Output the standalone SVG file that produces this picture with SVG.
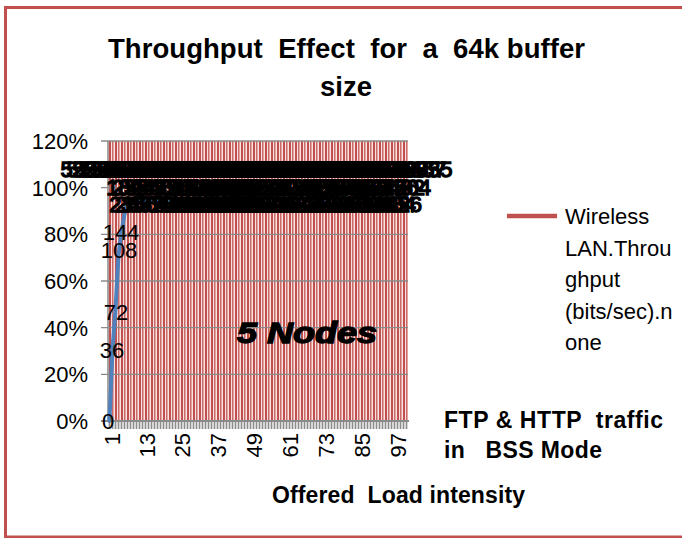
<svg xmlns="http://www.w3.org/2000/svg" width="682" height="538" viewBox="0 0 682 538">
<style>
.t{font-family:"Liberation Sans",Arial,sans-serif;fill:#000}
.ax{font-size:22px;text-anchor:end}
.dl{font-family:"Liberation Sans",Arial,sans-serif;font-size:22px;text-anchor:middle;fill:#000}
.heavy{stroke:#000;stroke-width:1.4}
.b{font-weight:bold}
.grid{stroke:#8A8A8A;stroke-width:1.3}
</style>
<defs>
<pattern id="bars" x="108" y="0" width="6" height="10" patternUnits="userSpaceOnUse"><rect width="6" height="10" fill="#F7E2E1"/><rect x="1" width="2" height="10" fill="#C0504D"/><rect x="4" width="1.5" height="10" fill="#CC6A67"/></pattern>
<pattern id="ticks" x="108" y="0" width="3" height="10" patternUnits="userSpaceOnUse"><rect width="3" height="10" fill="#D6D6D6"/><rect x="1" width="1" height="10" fill="#8C8C8C"/></pattern>
</defs>
<rect width="682" height="538" fill="#fff"/>
<g id="frame"><rect x="5.5" y="7.5" width="700" height="529.5" fill="none" stroke="#C0504D" stroke-width="3"/></g>
<g id="title" class="t b" font-size="27.5">
<text x="108" y="58" xml:space="preserve" textLength="477" lengthAdjust="spacing">Throughput  Effect  for  a  64k buffer</text>
<text x="346" y="96" text-anchor="middle">size</text>
</g>
<g id="plot">
<rect x="108" y="141" width="300" height="280" fill="url(#bars)"/>
<rect x="108" y="421" width="300" height="8" fill="url(#ticks)"/>
<g class="grid">
<line x1="101" y1="141" x2="408" y2="141"/>
<line x1="101" y1="187.7" x2="408" y2="187.7"/>
<line x1="101" y1="234.3" x2="408" y2="234.3"/>
<line x1="101" y1="281" x2="408" y2="281"/>
<line x1="101" y1="327.7" x2="408" y2="327.7"/>
<line x1="101" y1="374.3" x2="408" y2="374.3"/>
</g>
<line x1="108" y1="141" x2="108" y2="421" stroke="#8A8A8A" stroke-width="1.5"/>
<line x1="101" y1="421" x2="409" y2="421" stroke="#8A8A8A" stroke-width="2"/>
</g>
<g id="yaxis" class="t ax">
<text x="88" y="149">120%</text>
<text x="88" y="195.7">100%</text>
<text x="88" y="242.3">80%</text>
<text x="88" y="289">60%</text>
<text x="88" y="335.7">40%</text>
<text x="88" y="382.3">20%</text>
<text x="88" y="429">0%</text>
</g>
<g id="xaxis" class="t ax">
<text transform="translate(120,433) rotate(-90)">1</text>
<text transform="translate(155,433) rotate(-90)">13</text>
<text transform="translate(190,433) rotate(-90)">25</text>
<text transform="translate(226,433) rotate(-90)">37</text>
<text transform="translate(262,433) rotate(-90)">49</text>
<text transform="translate(298,433) rotate(-90)">61</text>
<text transform="translate(334,433) rotate(-90)">73</text>
<text transform="translate(370,433) rotate(-90)">85</text>
<text transform="translate(406,433) rotate(-90)">97</text>
</g>
<g id="series">
<path d="M109.5,421 L112.5,349 L115.5,310 L118.5,255 L121.5,232 L124.5,214 L127.5,205 L130.5,200 L406.5,198" fill="none" stroke="#4F81BD" stroke-width="4" stroke-linejoin="round" stroke-linecap="round"/>
</g>
<g id="datalabels">
<text class="dl" x="108" y="429">0</text>
<text class="dl" x="112" y="358">36</text>
<text class="dl" x="116" y="320">72</text>
<text class="dl" x="119" y="258">108</text>
<text class="dl" x="121" y="240">144</text>
<g class="dl heavy" transform="translate(0,177)">
<text x="109.5">52361847</text><text x="115.5">51947206</text><text x="121.5">52638150</text><text x="127.5">53016294</text><text x="133.5">52479631</text><text x="139.5">51836027</text><text x="145.5">52903518</text><text x="151.5">53264079</text><text x="157.5">52187463</text><text x="163.5">51729305</text>
<text x="169.5">52846192</text><text x="175.5">53417806</text><text x="181.5">52058371</text><text x="187.5">51694238</text><text x="193.5">52731960</text><text x="199.5">53185427</text><text x="205.5">52396814</text><text x="211.5">51873052</text><text x="217.5">52960743</text><text x="223.5">53048169</text>
<text x="229.5">52617395</text><text x="235.5">51782604</text><text x="241.5">52495038</text><text x="247.5">53327961</text><text x="253.5">52106487</text><text x="259.5">51958372</text><text x="265.5">52784610</text><text x="271.5">53091256</text><text x="277.5">52463907</text><text x="283.5">51817643</text>
<text x="289.5">52639581</text><text x="295.5">53205714</text><text x="301.5">52170396</text><text x="307.5">51746829</text><text x="313.5">52893064</text><text x="319.5">53362157</text><text x="325.5">52048739</text><text x="331.5">51985402</text><text x="337.5">52719836</text><text x="343.5">53126975</text>
<text x="349.5">52357018</text><text x="355.5">51839264</text><text x="361.5">52916583</text><text x="367.5">53274690</text><text x="373.5">52184305</text><text x="379.5">51763928</text><text x="385.5">52508146</text><text x="391.5">53041875</text><text x="397.5">52693457</text><text x="403.5">51876035</text>
</g>
<g class="dl heavy" transform="translate(0,195)">
<text x="124.5">180</text><text x="130.5">252</text><text x="136.5">324</text><text x="142.5">396</text><text x="148.5">468</text><text x="154.5">540</text><text x="160.5">612</text><text x="166.5">684</text><text x="172.5">756</text><text x="178.5">828</text>
<text x="184.5">900</text><text x="190.5">972</text><text x="196.5">1044</text><text x="202.5">1116</text><text x="208.5">1188</text><text x="214.5">1260</text><text x="220.5">1332</text><text x="226.5">1404</text><text x="232.5">1476</text><text x="238.5">1548</text>
<text x="244.5">1620</text><text x="250.5">1692</text><text x="256.5">1764</text><text x="262.5">1836</text><text x="268.5">1908</text><text x="274.5">1980</text><text x="280.5">2052</text><text x="286.5">2124</text><text x="292.5">2196</text><text x="298.5">2268</text>
<text x="304.5">2340</text><text x="310.5">2412</text><text x="316.5">2484</text><text x="322.5">2556</text><text x="328.5">2628</text><text x="334.5">2700</text><text x="340.5">2772</text><text x="346.5">2844</text><text x="352.5">2916</text><text x="358.5">2988</text>
<text x="364.5">3060</text><text x="370.5">3132</text><text x="376.5">3204</text><text x="382.5">3276</text><text x="388.5">3348</text><text x="394.5">3420</text><text x="400.5">3492</text><text x="406.5">3564</text>
</g>
<g class="dl heavy" transform="translate(0,212)" font-size="19">
<text x="127.5">216</text><text x="133.5">288</text><text x="139.5">360</text><text x="145.5">432</text><text x="151.5">504</text><text x="157.5">576</text><text x="163.5">648</text><text x="169.5">720</text><text x="175.5">792</text><text x="181.5">864</text>
<text x="187.5">936</text><text x="193.5">1008</text><text x="199.5">1080</text><text x="205.5">1152</text><text x="211.5">1224</text><text x="217.5">1296</text><text x="223.5">1368</text><text x="229.5">1440</text><text x="235.5">1512</text><text x="241.5">1584</text>
<text x="247.5">1656</text><text x="253.5">1728</text><text x="259.5">1800</text><text x="265.5">1872</text><text x="271.5">1944</text><text x="277.5">2016</text><text x="283.5">2088</text><text x="289.5">2160</text><text x="295.5">2232</text><text x="301.5">2304</text>
<text x="307.5">2376</text><text x="313.5">2448</text><text x="319.5">2520</text><text x="325.5">2592</text><text x="331.5">2664</text><text x="337.5">2736</text><text x="343.5">2808</text><text x="349.5">2880</text><text x="355.5">2952</text><text x="361.5">3024</text>
<text x="367.5">3096</text><text x="373.5">3168</text><text x="379.5">3240</text><text x="385.5">3312</text><text x="391.5">3384</text><text x="397.5">3456</text>
</g>
</g>
<g id="legend">
<line x1="507" y1="216" x2="557" y2="216" stroke="#C0504D" stroke-width="4.5"/>
<g class="t" font-size="22">
<text x="565" y="224">Wireless</text>
<text x="565" y="255.5">LAN.Throu</text>
<text x="565" y="287">ghput</text>
<text x="565" y="318.5">(bits/sec).n</text>
<text x="565" y="350">one</text>
</g>
</g>
<g id="annotations" class="t b">
<text x="237" y="343" font-size="30" font-style="italic" stroke="#000" stroke-width="1.3" textLength="140" lengthAdjust="spacingAndGlyphs">5 Nodes</text>
<text x="444" y="428" font-size="23" xml:space="preserve" textLength="219" lengthAdjust="spacing">FTP &amp; HTTP  traffic</text>
<text x="444" y="458" font-size="23" xml:space="preserve" textLength="158" lengthAdjust="spacing">in   BSS Mode</text>
<text x="272" y="503" font-size="23" xml:space="preserve" textLength="253" lengthAdjust="spacing">Offered  Load intensity</text>
</g>
</svg>
